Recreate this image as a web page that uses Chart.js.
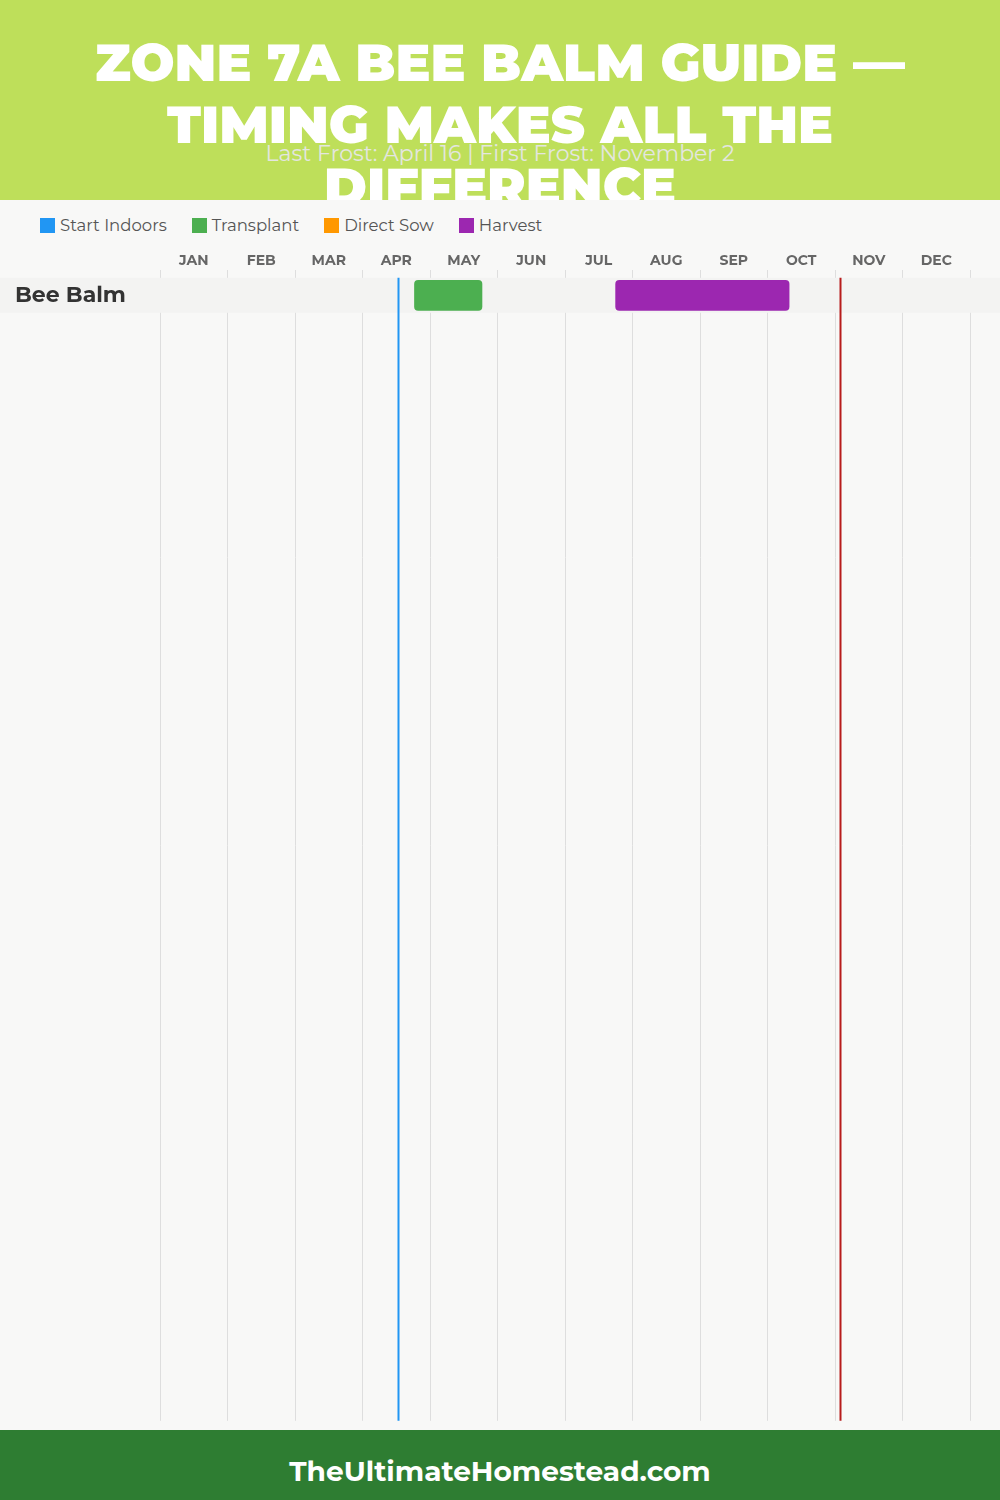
<!DOCTYPE html>
<html>
<head>
<meta charset="utf-8">
<script src="https://cdn.jsdelivr.net/npm/chart.js@4.4.1/dist/chart.umd.min.js"></script>
<style>
  html, body { margin: 0; padding: 0; }
  body { width: 1000px; height: 1500px; background: #f8f8f7; position: relative; overflow: hidden; font-family: "Montserrat", "Inter", sans-serif; }
  #header { position: absolute; left: 0; top: 0; width: 1000px; height: 200px; background: #bedf5a; overflow: hidden; }
  #title { position: absolute; left: 0; top: 32px; width: 1000px; margin: 0; text-align: center; color: #fff; font-size: 52px; line-height: 62px; font-weight: 900; }
  #subtitle { position: absolute; left: 0; top: 141px; width: 1000px; text-align: center; color: #e4e6e0; font-size: 22px; line-height: 26px; font-weight: 400; }
  #legend { position: absolute; left: 40px; top: 215px; height: 20px; display: flex; align-items: center; font-size: 16.5px; color: #555; }
  #legend .item { display: flex; align-items: center; margin-right: 25px; }
  #legend .box { width: 15px; height: 15px; margin-right: 5px; }
  #wrap { position: absolute; left: 0; top: 243px; width: 1000px; height: 1194px; }
  #footer { position: absolute; left: 0; top: 1430px; width: 1000px; height: 70px; background: #2e7d32; color: #fff; text-align: center; font-size: 28px; line-height: 82px; font-weight: 700; overflow: hidden; }
</style>
</head>
<body>
<div id="header">
  <h1 id="title">ZONE 7A BEE BALM GUIDE —<br>TIMING MAKES ALL THE<br>DIFFERENCE</h1>
  <div id="subtitle">Last Frost: April 16 | First Frost: November 2</div>
</div>
<div id="legend"></div>
<div id="wrap"><canvas id="calChart"></canvas></div>
<div id="footer">TheUltimateHomestead.com</div>

<script>
// month positions are fractional months from Jan 1 (0 = Jan 1, 12 = Dec 31)
const months = ["JAN", "FEB", "MAR", "APR", "MAY", "JUN", "JUL", "AUG", "SEP", "OCT", "NOV", "DEC"];
const crops = ["Bee Balm"];
const stages = ["Start Indoors", "Transplant", "Direct Sow", "Harvest"];

const startIndoors = [];
const transplant = [[3.77, 4.77]];
const directSow = [];
const harvest = [[6.75, 9.32]];

const lastFrost = 3.53;   // April 16
const firstFrost = 10.07; // November 2

const stageColors = ["#2196f3", "#4caf50", "#ff9800", "#9c27b0"];
const ROW_H = 35;
const ROW_TOP = 8;

let calChart;

function buildLegend() {
  const legend = document.getElementById("legend");
  stages.forEach((name, i) => {
    const item = document.createElement("div");
    item.className = "item";
    const box = document.createElement("span");
    box.className = "box";
    box.style.background = stageColors[i];
    const txt = document.createElement("span");
    txt.textContent = name;
    item.appendChild(box);
    item.appendChild(txt);
    legend.appendChild(item);
  });
}

function toPoints(ranges) {
  // every crop row gets the range at the same index
  return ranges.map((r, i) => ({ x: r, y: i }));
}

const rowPlugin = {
  id: "rowPlugin",
  beforeDatasetsDraw(chart) {
    const ctx = chart.ctx;
    const y = chart.scales.y;
    ctx.save();
    ctx.fillStyle = "#f3f3f2";
    crops.forEach((c, i) => {
      const py = y.getPixelForValue(i);
      ctx.fillRect(0, py - ROW_H / 2, chart.width, ROW_H);
    });
    ctx.restore();
  },
  afterDatasetsDraw(chart) {
    const ctx = chart.ctx;
    const x = chart.scales.x;
    const top = chart.scales.y.getPixelForValue(0) - ROW_H / 2;
    const bottom = chart.chartArea.bottom;
    ctx.save();
    ctx.lineWidth = 2;
    [[lastFrost, "#2196f3"], [firstFrost, "#b71c1c"]].forEach(([v, col]) => {
      const px = Math.round(x.getPixelForValue(v)) + 0.5;
      ctx.strokeStyle = col;
      ctx.beginPath();
      ctx.moveTo(px, top);
      ctx.lineTo(px, bottom);
      ctx.stroke();
    });
    ctx.restore();
  }
};

function initChart() {
  const ctx = document.getElementById("calChart").getContext("2d");
  const series = [startIndoors, transplant, directSow, harvest];

  calChart = new Chart(ctx, {
    type: "bar",
    data: {
      datasets: stages.map((name, i) => ({
        label: name,
        data: toPoints(series[i]),
        backgroundColor: stageColors[i],
        borderRadius: 4,
        borderSkipped: false,
        barThickness: 30,
        grouped: false
      }))
    },
    options: {
      indexAxis: "y",
      responsive: true,
      maintainAspectRatio: false,
      animation: false,
      layout: { padding: { left: 15, right: 30, top: 8, bottom: 3 } },
      plugins: {
        legend: { display: false },
        tooltip: { enabled: false }
      },
      scales: {
        x: {
          type: "linear",
          position: "top",
          min: 0,
          max: 12,
          ticks: { display: false, stepSize: 1 },
          grid: { color: "#dedede", drawTicks: false },
          border: { display: false }
        },
        x2: {
          type: "category",
          position: "top",
          labels: months,
          offset: true,
          ticks: {
            color: "#666",
            font: { family: "Montserrat, Inter, sans-serif", size: 14, weight: "bold" },
            padding: 1,
            maxRotation: 0,
            autoSkip: false
          },
          grid: { display: false, drawTicks: false },
          border: { display: false }
        },
        y: {
          type: "linear",
          reverse: true,
          offset: false,
          min: -(ROW_TOP + ROW_H / 2) / ROW_H,
          max: 32.13,
          afterBuildTicks(scale) {
            scale.ticks = crops.map((c, i) => ({ value: i }));
          },
          afterFit(scale) {
            scale.width = 145;
          },
          ticks: {
            callback: (v) => crops[v],
            crossAlign: "far",
            color: "#333",
            font: { family: "Montserrat, Inter, sans-serif", size: 22, weight: "bold" },
            z: 1
          },
          grid: { display: false, offset: false },
          border: { display: false }
        }
      }
    },
    plugins: [rowPlugin]
  });
}

window.onload = function () {
  buildLegend();
  initChart();
};
</script>
</body>
</html>
